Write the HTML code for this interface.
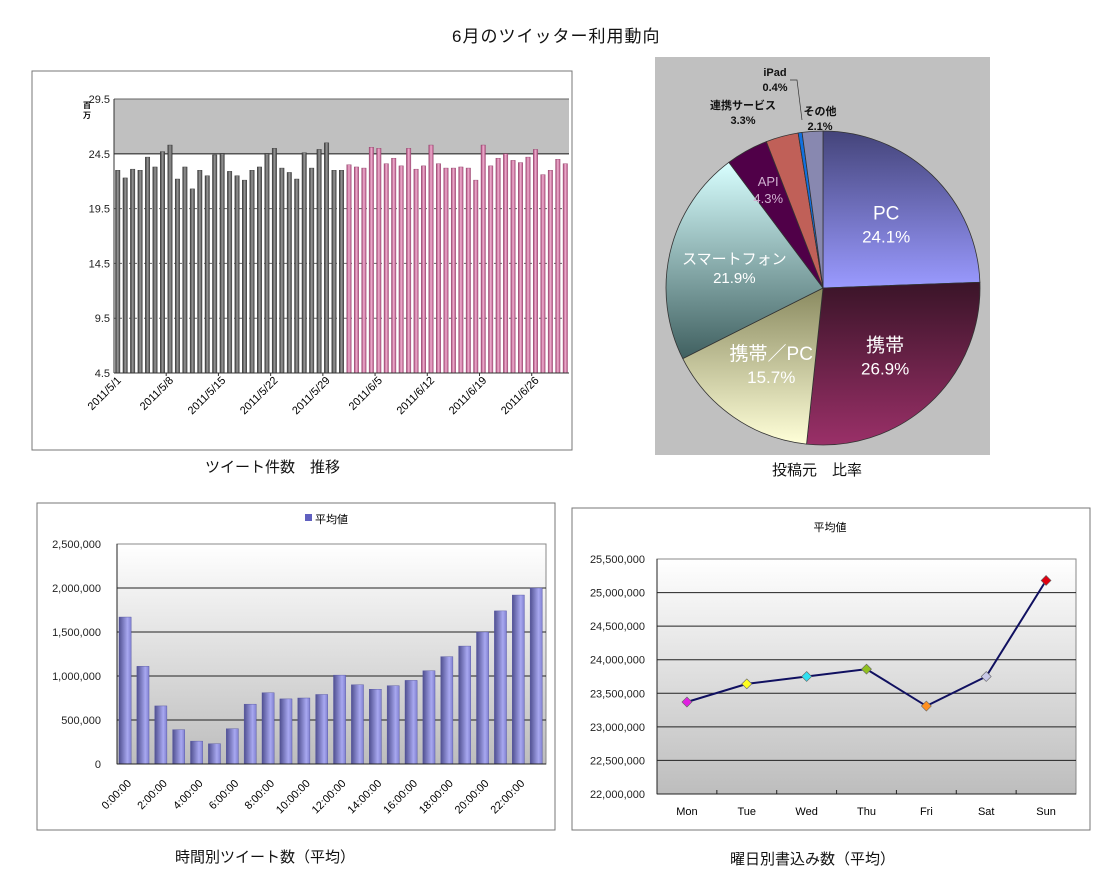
<!DOCTYPE html>
<html><head><meta charset="utf-8"><style>
body{margin:0;width:1098px;height:874px;background:#fff;font-family:"Liberation Sans","Noto Sans CJK JP",sans-serif;position:relative;overflow:hidden}
.t{position:absolute;font-size:15px;color:#111;white-space:nowrap}
svg{position:absolute;left:0;top:0}
</style></head><body>
<div class="t" style="left:452px;top:22px;font-size:17px;letter-spacing:1px">6月のツイッター利用動向</div>
<div class="t" style="left:205px;top:456px">ツイート件数　推移</div>
<div class="t" style="left:772px;top:459px">投稿元　比率</div>
<div class="t" style="left:175px;top:846px">時間別ツイート数（平均）</div>
<div class="t" style="left:730px;top:848px">曜日別書込み数（平均）</div>
<svg id="s" width="1098" height="874">
<defs>
<linearGradient id="gbar" x1="0" x2="1"><stop offset="0" stop-color="#333"/><stop offset=".5" stop-color="#999"/><stop offset="1" stop-color="#444"/></linearGradient>
<linearGradient id="pbar" x1="0" x2="1"><stop offset="0" stop-color="#a04070"/><stop offset=".5" stop-color="#f0b0d0"/><stop offset="1" stop-color="#b05080"/></linearGradient>
<linearGradient id="bbar" x1="0" x2="1"><stop offset="0" stop-color="#505090"/><stop offset=".7" stop-color="#a8a8f0"/><stop offset="1" stop-color="#8080d0"/></linearGradient>
<linearGradient id="bg" x1="0" y1="0" x2="0" y2="1"><stop offset="0" stop-color="#fff"/><stop offset="1" stop-color="#bdbdbd"/></linearGradient>
<linearGradient id="p0" x1="0" y1="0" x2="0" y2="1"><stop offset="0" stop-color="#44447a"/><stop offset="1" stop-color="#9a9aff"/></linearGradient>
<linearGradient id="p1" x1="0" y1="0" x2="0" y2="1"><stop offset="0" stop-color="#3a1428"/><stop offset="1" stop-color="#9a3068"/></linearGradient>
<linearGradient id="p2" x1="0" y1="0" x2="0" y2="1"><stop offset="0" stop-color="#8a8a60"/><stop offset="1" stop-color="#ffffd8"/></linearGradient>
<linearGradient id="p3" x1="0" y1="0" x2="0" y2="1"><stop offset="0" stop-color="#d8ffff"/><stop offset="1" stop-color="#406060"/></linearGradient>
</defs>
<rect x="32" y="71" width="540" height="379" fill="#fff" stroke="#777"/>
<rect x="655" y="57" width="335" height="398" fill="#c0c0c0"/>
<rect x="37" y="503" width="518" height="327" fill="#fff" stroke="#777"/>
<rect x="572" y="508" width="518" height="322" fill="#fff" stroke="#777"/>
<g id="g1"></g><g id="g2"></g><g id="g3"></g><g id="g4"></g>
</svg>
<script>
const NS="http://www.w3.org/2000/svg";
function mk(p,tag,at,txt){const e=document.createElementNS(NS,tag);for(const k in at)e.setAttribute(k,at[k]);if(txt!==undefined)e.textContent=txt;p.appendChild(e);return e;}
// ---- chart 1 data
const mayValues=[23.0,22.3,23.1,23.0,24.2,23.3,24.7,25.3,22.2,23.3,21.3,23.0,22.5,24.4,24.5,22.9,22.5,22.1,23.0,23.3,24.5,25.0,23.2,22.8,22.2,24.6,23.2,24.9,25.5,23.0,23.0];
const juneValues=[23.5,23.3,23.2,25.1,25.0,23.6,24.1,23.4,25.0,23.1,23.4,25.3,23.6,23.2,23.2,23.3,23.2,22.1,25.3,23.4,24.1,24.5,23.9,23.7,24.2,24.9,22.6,23.0,24.0,23.6];
const trendTicks=[4.5,9.5,14.5,19.5,24.5,29.5];
const dateLabels=["2011/5/1","2011/5/8","2011/5/15","2011/5/22","2011/5/29","2011/6/5","2011/6/12","2011/6/19","2011/6/26"];
// ---- chart 2 data
const pieLabels=["PC","携帯","携帯／PC","スマートフォン","API","連携サービス","iPad","その他"];
const pieValues=[24.1,26.9,15.7,21.9,4.3,3.3,0.4,2.1];
// ---- chart 3 data
const hourLabels=["0:00:00","2:00:00","4:00:00","6:00:00","8:00:00","10:00:00","12:00:00","14:00:00","16:00:00","18:00:00","20:00:00","22:00:00"];
const hourValues=[1670000,1110000,660000,390000,260000,230000,400000,680000,810000,740000,750000,790000,1010000,900000,850000,890000,950000,1060000,1220000,1340000,1500000,1740000,1920000,2000000];
const hourTicks=[0,500000,1000000,1500000,2000000,2500000];
// ---- chart 4 data
const days=["Mon","Tue","Wed","Thu","Fri","Sat","Sun"];
const dayValues=[23370000,23640000,23750000,23860000,23310000,23750000,25180000];
const dayTicks=[22000000,22500000,23000000,23500000,24000000,24500000,25000000,25500000];
const dayColors=["#e020e0","#ffff20","#30e0f0","#90c020","#ff9020","#c8c8e8","#e00010"];
const fmt=v=>v.toLocaleString("en-US");

// chart 1
(function(){const g=document.getElementById("g1");
const L=114,R=569,T=99,B=373,y=v=>B-(v-4.5)/25*(B-T);
const vals=mayValues.concat(juneValues),n=vals.length,bw=(R-L)/n;
let r=mk(g,"rect",{x:L,y:T,width:R-L,height:y(24.5)-T,fill:"#c0c0c0"});

trendTicks.forEach(t=>{const l=mk(g,"line",{x1:L,x2:R,y1:y(t),y2:y(t),stroke:t==24.5?"#555":"#666","stroke-width":t==24.5?1.5:1,"stroke-dasharray":t==24.5||t==29.5||t==4.5?"":"3,2"});

const tx=mk(g,"text",{x:L-4,y:y(t)+4,"text-anchor":"end","font-size":11,fill:"#222"},t.toFixed(1));
});
const u=mk(g,"text",{x:83,y:108,"font-size":8,"font-weight":"bold"},"百");
const u2=mk(g,"text",{x:83,y:118,"font-size":8,"font-weight":"bold"},"万");
vals.forEach((v,i)=>{const b=mk(g,"rect",{x:L+i*bw+1.5,y:y(v),width:bw*0.6,height:B-y(v),fill:i<mayValues.length?"url(#gbar)":"url(#pbar)",stroke:i<mayValues.length?"#333":"#904068","stroke-width":0.4});
});
mk(g,"line",{x1:L,x2:R,y1:B,y2:B,stroke:"#333"});mk(g,"line",{x1:L,x2:L,y1:T,y2:B,stroke:"#333"});
dateLabels.forEach((d,k)=>{const x=L+(k*7+0.5)*bw+4;const tk=L+(k+1)*7*bw;if(tk<R)mk(g,"line",{x1:tk,x2:tk,y1:B,y2:B+3,stroke:"#333"});
const tx=mk(g,"text",{x:x,y:B+8,"text-anchor":"end","font-size":11,transform:`rotate(-45 ${x} ${B+8})`},d);
});})();

// chart 2
(function(){const g=document.getElementById("g2");const cx=823,cy=288,r=157;
const tot=pieValues.reduce((a,b)=>a+b,0);const fills=["url(#p0)","url(#p1)","url(#p2)","url(#p3)","#500048","#c06058","#1070e0","#8888b0"];
let a=-Math.PI/2;pieValues.forEach((v,i)=>{const da=v/tot*2*Math.PI,a2=a+da;
const p=mk(g,"path",{d:`M${cx},${cy}L${cx+r*Math.cos(a)},${cy+r*Math.sin(a)}A${r},${r} 0 ${da>Math.PI?1:0} 1 ${cx+r*Math.cos(a2)},${cy+r*Math.sin(a2)}Z`,fill:fills[i],stroke:"#333","stroke-width":0.8});

const m=(a+a2)/2;let lx,ly,fs,col,fw="normal";
if(i<5){const rr=i==4?0.72:0.58;lx=cx+r*rr*Math.cos(m);ly=cy+r*rr*Math.sin(m);fs=i<3?19:i==3?15:13;col=i==4?"#d0b0d0":"#fff";}
else{const pos=[[743,112],[775,79],[820,118]][i-5];lx=pos[0];ly=pos[1];fs=11;col="#111";fw="bold";}
const t1=mk(g,"text",{x:lx,y:ly-3,"text-anchor":"middle","font-size":fs,fill:col,"font-weight":fw},pieLabels[i]);

const t2=mk(g,"text",{x:lx,y:ly+fs+1,"text-anchor":"middle","font-size":i<3?17:fs,fill:col,"font-weight":fw},v.toFixed(1)+"%");

a=a2;});
mk(g,"polyline",{points:"790,80 797,80 802,120",fill:"none",stroke:"#333","stroke-width":0.7});})();

// chart 3
(function(){const g=document.getElementById("g3");const L=117,R=546,T=544,B=764,y=v=>B-v/2500000*(B-T);
const bgr=mk(g,"rect",{x:L,y:T,width:R-L,height:B-T,fill:"url(#bg)",stroke:"#888"});
hourTicks.forEach(t=>{if(t>0&&t<2500000)mk(g,"line",{x1:L,x2:R,y1:y(t),y2:y(t),stroke:"#222"});
const tx=mk(g,"text",{x:L-16,y:y(t)+4,"text-anchor":"end","font-size":11,fill:"#222"},fmt(t));});
const bw=(R-L)/hourValues.length;
hourValues.forEach((v,i)=>{const b=mk(g,"rect",{x:L+i*bw+2,y:y(v),width:bw*0.68,height:B-y(v),fill:"url(#bbar)",stroke:"#5050a0","stroke-width":0.4});
});
mk(g,"line",{x1:L,x2:R,y1:B,y2:B,stroke:"#222"});mk(g,"line",{x1:L,x2:L,y1:T,y2:B,stroke:"#222"});
hourLabels.forEach((h,k)=>{const x=L+(2*k+0.5)*bw+6,yy=B+20;const tx=mk(g,"text",{x:x,y:yy,"text-anchor":"end","font-size":11,transform:`rotate(-45 ${x} ${yy})`},h);
});
const lg=mk(g,"rect",{x:305,y:514,width:7,height:7,fill:"#6060c0"});
const lt=mk(g,"text",{x:315,y:523,"font-size":11},"平均値");})();

// chart 4
(function(){const g=document.getElementById("g4");const L=657,R=1076,T=559,B=794,y=v=>B-(v-22000000)/3500000*(B-T);
const bgr=mk(g,"rect",{x:L,y:T,width:R-L,height:B-T,fill:"url(#bg)",stroke:"#888"});
dayTicks.forEach(t=>{if(t>22000000&&t<25500000)mk(g,"line",{x1:L,x2:R,y1:y(t),y2:y(t),stroke:"#222"});
const tx=mk(g,"text",{x:L-12,y:y(t)+4,"text-anchor":"end","font-size":11,fill:"#222"},fmt(t));});
mk(g,"line",{x1:L,x2:R,y1:B,y2:B,stroke:"#222"});mk(g,"line",{x1:L,x2:L,y1:T,y2:B,stroke:"#222"});
const cw=(R-L)/days.length,x=i=>L+(i+0.5)*cw;
days.forEach((d,i)=>{if(i>0)mk(g,"line",{x1:L+i*cw,x2:L+i*cw,y1:B,y2:B-4,stroke:"#222"});
const tx=mk(g,"text",{x:x(i),y:B+21,"text-anchor":"middle","font-size":11},d);});
const ln=mk(g,"polyline",{points:dayValues.map((v,i)=>x(i)+","+y(v)).join(" "),fill:"none",stroke:"#101060","stroke-width":2});

dayValues.forEach((v,i)=>{const m=mk(g,"path",{d:`M${x(i)},${y(v)-5}l5,5l-5,5l-5,-5z`,fill:dayColors[i],stroke:"#666","stroke-width":0.6});
});
const tt=mk(g,"text",{x:830,y:531,"text-anchor":"middle","font-size":11},"平均値");})();
</script>
</body></html>
